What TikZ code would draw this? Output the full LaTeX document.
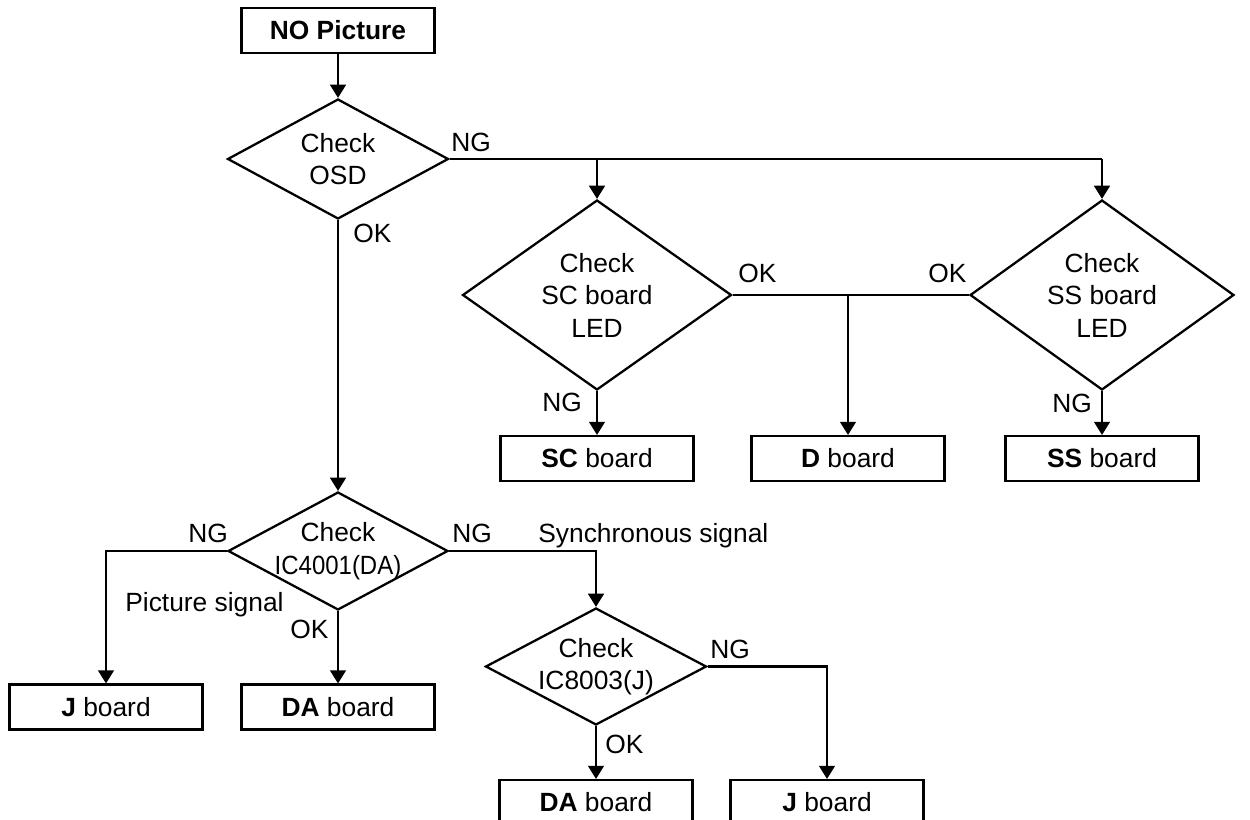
\documentclass[tikz,border=0pt]{standalone}
\usepackage{fontspec}
\usepackage{graphicx}
\setmainfont{Liberation Sans}
\usetikzlibrary{shapes.geometric,arrows.meta}
\begin{document}
\begin{tikzpicture}[x=0.02cm,y=-0.02cm,
  every node/.style={font=\fontsize{15}{18.5}\selectfont},
  box/.style={draw,line width=1.2pt,minimum width=3.86cm,minimum height=0.9cm,inner sep=0pt},
  dia/.style={draw,shape=diamond,line width=1.3pt,inner sep=0pt,align=center},
  tight/.style={inner xsep=-8pt,inner ysep=-5pt},
  conn/.style={line width=1.2pt},
  arr/.style={line width=1.2pt,-{Triangle[length=7.5pt,width=9pt]}},
  lab/.style={anchor=base west,inner sep=0pt}]
\clip (0,0) rectangle (1250,820);
\useasboundingbox (0,0) rectangle (1250,820);

\node[box] (start) at (338,30.5) {\textbf{NO Picture}};
\node[dia,aspect=1.84,minimum width=4.42cm,minimum height=2.4cm] (osd) at (338,159) {Check\\OSD};
\node[dia,aspect=1.42,minimum width=5.38cm,minimum height=3.8cm] (sc) at (597,295) {Check\\SC board\\LED};
\node[dia,aspect=1.39,minimum width=5.28cm,minimum height=3.8cm] (ss) at (1102,295) {Check\\SS board\\LED};
\node[box] (scb) at (597,458.5) {\textbf{SC} board};
\node[box] (db) at (848,458.5) {\textbf{D} board};
\node[box] (ssb) at (1102,458.5) {\textbf{SS} board};
\node[dia,tight,aspect=1.86,minimum width=4.4cm,minimum height=2.36cm] (ic4) at (338,551) {Check\\\scalebox{0.91}[1]{IC4001(DA)}};
\node[box] (jb1) at (106,707) {\textbf{J} board};
\node[box] (dab1) at (338,707) {\textbf{DA} board};
\node[dia,tight,aspect=1.89,minimum width=4.42cm,minimum height=2.34cm] (ic8) at (596,666.5) {Check\\IC8003(J)};
\node[box] (dab2) at (596,802.5) {\textbf{DA} board};
\node[box] (jb2) at (827,802.5) {\textbf{J} board};

% connectors
\draw[arr] (start) -- (osd);
\draw[conn] (osd.east) -- (ss.north |- osd.east) coordinate (ssj);
\draw[arr] (ssj) -- (ss.north);
\draw[arr] (sc.north |- osd.east) -- (sc.north);
\draw[arr] (osd.south) -- (ic4.north);
\draw[conn] (sc.east) -- (ss.west);
\draw[arr] (db.north |- sc.east) -- (db.north);
\draw[arr] (sc.south) -- (scb.north);
\draw[arr] (ss.south) -- (ssb.north);
\draw[arr] (ic4.west) -| (jb1.north);
\draw[arr] (ic4.south) -- (dab1.north);
\draw[arr] (ic4.east) -| (ic8.north);
\draw[arr] (ic8.south) -- (dab2.north);
\draw[arr] (ic8.east) -| (jb2.north);

% labels
\node[lab] (l1) at (451,152) {NG};
\node[lab] (l2) at (353,243) {OK};
\node[lab] (l3) at (738,283) {OK};
\node[lab] (l4) at (928,283) {OK};
\node[lab] (l5) at (542,412) {NG};
\node[lab] (l6) at (1052,413) {NG};
\node[lab] (l7) at (188,542) {NG};
\node[lab] (l8) at (452,542) {NG};
\node[lab] (l9) at (538,542) {Synchronous signal};
\node[lab] (l10) at (125,611) {Picture signal};
\node[lab] (l11) at (290,638) {OK};
\node[lab] (l12) at (710,658) {NG};
\node[lab] (l13) at (605,753) {OK};
\end{tikzpicture}
\end{document}
